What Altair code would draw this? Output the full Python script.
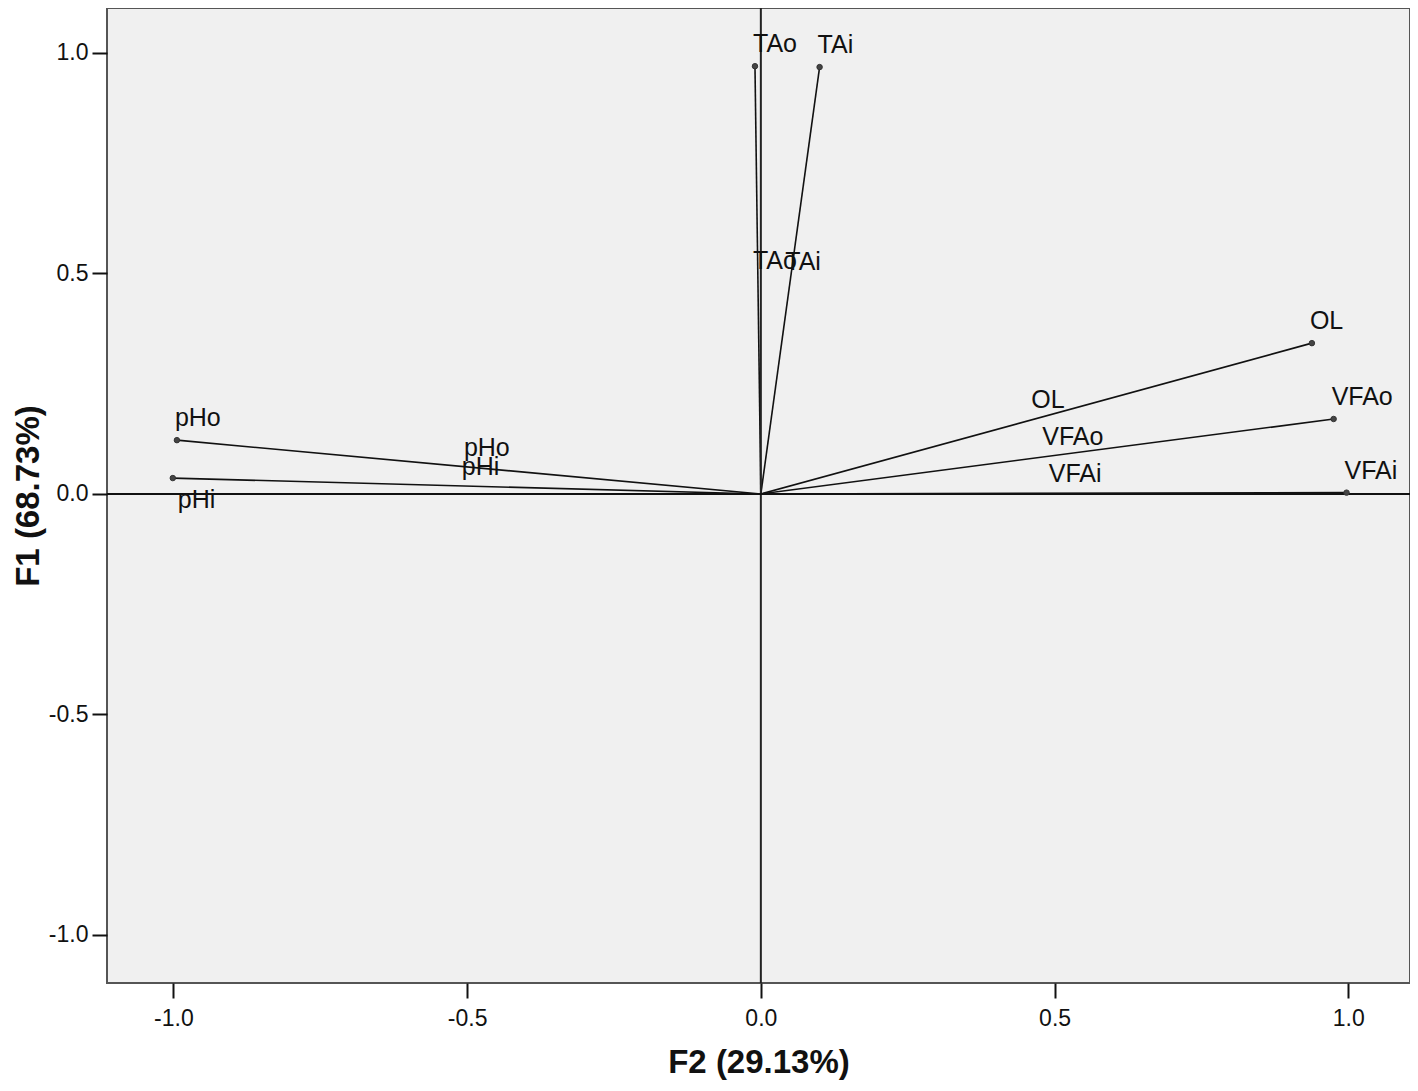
import altair as alt
import pandas as pd

names = ["TAo", "TAi", "OL", "VFAo", "VFAi", "pHo", "pHi"]
f2 = [-0.010, 0.100, 0.938, 0.975, 0.997, -0.994, -1.001]
f1 = [0.970, 0.968, 0.342, 0.170, 0.003, 0.122, 0.036]
tick_vals = [-1.0, -0.5, 0.0, 0.5, 1.0]

df = pd.DataFrame({"name": names, "f2": f2, "f1": f1})
zero = pd.DataFrame({"v": [0.0]})

FONT = "Liberation Sans"
LABEL_EXPR = "replace(format(datum.value, '.1f'), '\u2212', '-')"
xs = alt.Scale(domain=[-1.113, 1.105], nice=False, zero=False)
ys = alt.Scale(domain=[-1.109, 1.102], nice=False, zero=False)
xaxis = alt.Axis(title="F2 (29.13%)", values=tick_vals, labelExpr=LABEL_EXPR, grid=False)
yaxis = alt.Axis(title="F1 (68.73%)", values=tick_vals, labelExpr=LABEL_EXPR, grid=False)

base = alt.Chart(df)

vline = alt.Chart(zero).mark_rule(color="#222", strokeWidth=2).encode(
    x=alt.X("v:Q", scale=xs, axis=xaxis)
)
hline = alt.Chart(zero).mark_rule(color="#111", strokeWidth=2).encode(
    y=alt.Y("v:Q", scale=ys, axis=yaxis)
)

vectors = base.transform_calculate(x0="0", y0="0").mark_rule(
    color="#111", strokeWidth=1.6
).encode(
    x=alt.X("f2:Q", scale=xs, axis=xaxis),
    y=alt.Y("f1:Q", scale=ys, axis=yaxis),
    x2="x0:Q",
    y2="y0:Q",
)

points = base.mark_point(
    shape="circle", filled=True, size=30, color="#444", opacity=1,
    stroke="#333", strokeWidth=1
).encode(
    x=alt.X("f2:Q", scale=xs, axis=xaxis),
    y=alt.Y("f1:Q", scale=ys, axis=yaxis),
)

end_labels = base.transform_filter("datum.name != 'pHi'").mark_text(
    align="left", baseline="alphabetic", dx=-2, dy=-14,
    font=FONT, fontSize=25, color="#111"
).encode(
    x=alt.X("f2:Q", scale=xs, axis=xaxis),
    y=alt.Y("f1:Q", scale=ys, axis=yaxis),
    text="name:N",
)

end_label_below = base.transform_filter("datum.name == 'pHi'").mark_text(
    align="left", baseline="alphabetic", dx=5, dy=30,
    font=FONT, fontSize=25, color="#111"
).encode(
    x=alt.X("f2:Q", scale=xs, axis=xaxis),
    y=alt.Y("f1:Q", scale=ys, axis=yaxis),
    text="name:N",
)

mid_labels = base.transform_calculate(
    mx="datum.f2 / 2", my="datum.f1 / 2"
).mark_text(
    align="left", baseline="alphabetic", dx=-5, dy=-11,
    font=FONT, fontSize=25, color="#111"
).encode(
    x=alt.X("mx:Q", scale=xs, axis=xaxis),
    y=alt.Y("my:Q", scale=ys, axis=yaxis),
    text="name:N",
)

chart = alt.layer(
    vectors, vline, hline, points, end_labels, end_label_below, mid_labels
).properties(
    width=1303,
    height=975,
    autosize=alt.AutoSizeParams(type="none"),
    padding={"left": 99, "top": 0, "right": 0, "bottom": 100},
    background="white",
).configure_view(
    fill="#f0f0f0", stroke="#555", strokeWidth=2
).configure_axis(
    domain=False,
    tickSize=15,
    tickWidth=2,
    tickColor="#111",
    labelFont=FONT,
    labelFontSize=23,
    labelColor="#111",
    labelPadding=4,
    titleFont=FONT,
    titleFontSize=33,
    titleFontWeight="bold",
    titleColor="#111",
).configure_axisX(
    labelPadding=9,
    titlePadding=16,
).configure_axisY(
    titlePadding=3,
)

chart.save("out.html", embed_options={"renderer": "svg", "actions": False})
